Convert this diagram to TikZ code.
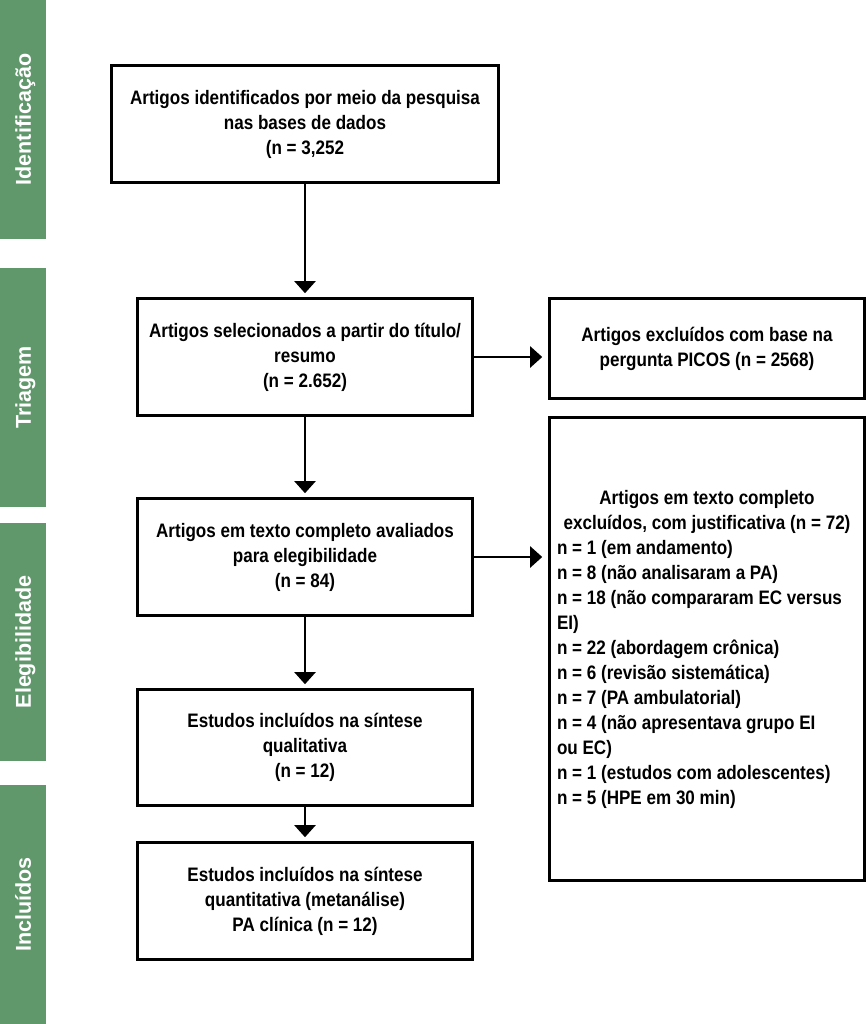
\documentclass[tikz,border=0pt]{standalone}
\usepackage{fontspec}
\setmainfont{Liberation Sans}[FakeStretch=0.875]
\newfontfamily\barfont{Liberation Sans}
\usetikzlibrary{arrows.meta}
\definecolor{bargreen}{RGB}{96,152,108}

\begin{document}
\begin{tikzpicture}[x=1pt, y=-1pt,
  box/.style={draw, rectangle, line width=2.6pt, align=center, inner sep=0pt,
    font=\bfseries\fontsize{19.5}{25}\selectfont},
  stage/.style={fill=bargreen, text=white, rotate=90, inner sep=0pt,
    minimum height=46pt, text height=15.5pt, text depth=0pt,
    font=\barfont\bfseries\fontsize{21.5}{26}\selectfont},
  arr/.style={-{Triangle[width=21pt,length=12pt]}, line width=2.2pt, shorten >=4pt}]
\useasboundingbox (0,0) rectangle (867,1024);
% stages on the left
\node[stage, minimum width=239pt] (sident) at (23,119.5) {Identificação};
\node[stage, minimum width=239pt] (sscreen) at (23,387.5) {Triagem};
\node[stage, minimum width=238pt] (selig) at (23,642) {Elegibilidade};
\node[stage, minimum width=239pt] (sincl) at (23,904.5) {Incluídos};
% main column
\node[box, minimum width=387pt, minimum height=117pt] (ident) at (305,124) {Artigos identificados por meio da pesquisa\\nas bases de dados\\(n = 3,252};
\node[box, minimum width=335pt, minimum height=117pt] (screen) at (305,357) {Artigos selecionados a partir do título/\\resumo\\(n = 2.652)};
\node[box, minimum width=335pt, minimum height=117pt] (fulltext) at (305,557) {Artigos em texto completo avaliados\\para elegibilidade\\(n = 84)};
\node[box, minimum width=335pt, minimum height=116pt] (qual) at (305,747.5) {Estudos incluídos na síntese\\qualitativa\\(n = 12)};
\node[box, minimum width=335pt, minimum height=117pt] (quant) at (305,901) {Estudos incluídos na síntese\\quantitativa (metanálise)\\PA clínica (n = 12)};
% excluded
\node[box, minimum width=315pt, minimum height=100pt] (picos) at (707,348.5) {Artigos excluídos com base na\\pergunta PICOS (n = 2568)};
\node[box, minimum width=315pt, minimum height=463pt, text width=300pt, align=flush left] (reasons) at (707,649) {{\centering Artigos em texto completo\\excluídos, com justificativa (n = 72)\par}
n = 1 (em andamento)\\
n = 8 (não analisaram a PA)\\
n = 18 (não compararam EC versus\\
EI)\\
n = 22 (abordagem crônica)\\
n = 6 (revisão sistemática)\\
n = 7 (PA ambulatorial)\\
n = 4 (não apresentava grupo EI\\
ou EC)\\
n = 1 (estudos com adolescentes)\\
n = 5 (HPE em 30 min)};
% arrows
\draw[arr] (ident.south) -- (screen.north);
\draw[arr] (screen.south) -- (fulltext.north);
\draw[arr] (fulltext.south) -- (qual.north);
\draw[arr] (qual.south) -- (quant.north);
\draw[arr, shorten >=6pt] (screen.east) -- (screen.east -| picos.west);
\draw[arr, shorten >=6pt] (fulltext.east) -- (fulltext.east -| reasons.west);
\end{tikzpicture}
\end{document}
